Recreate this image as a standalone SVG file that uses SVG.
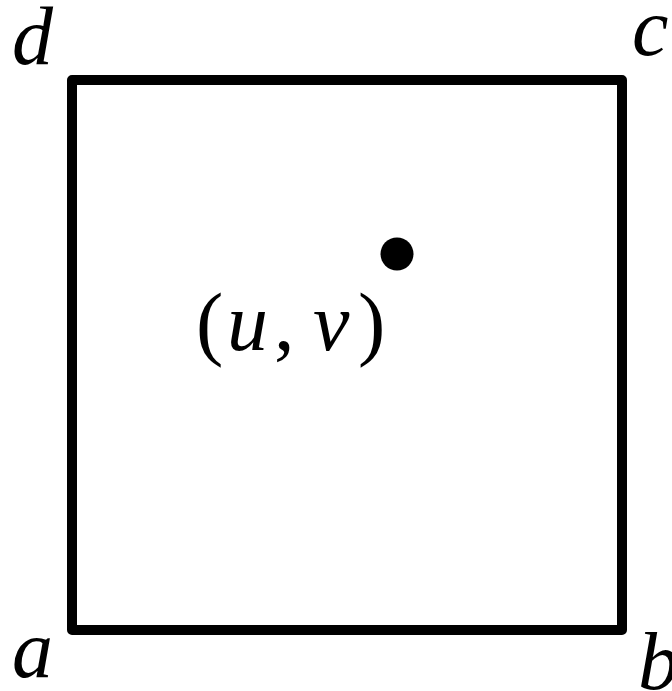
<svg xmlns="http://www.w3.org/2000/svg" width="672" height="691" viewBox="0 0 672 691">
<style>
text{font-family:'Liberation Serif','DejaVu Serif',serif;font-size:82px;fill:#000}
.it{font-style:italic}
.sq{fill:none;stroke:#000;stroke-width:10;stroke-linejoin:round}
</style>
<rect width="672" height="691" fill="#fff"/>
<g id="square"><rect class="sq" x="72" y="80" width="550" height="550"/></g>
<g id="point"><circle cx="397" cy="254" r="16.5" fill="#000"/></g>
<g id="label-d"><text class="it" x="12" y="64">d</text></g>
<g id="label-c"><text class="it" x="632" y="55">c</text></g>
<g id="label-a"><text class="it" x="12" y="677">a</text></g>
<g id="label-b"><text class="it" x="638" y="689">b</text></g>
<g id="label-uv"><text y="350"><tspan x="196">(</tspan><tspan class="it" x="227">u</tspan><tspan x="274">,</tspan><tspan class="it" x="313">v</tspan><tspan x="358">)</tspan></text></g>
</svg>
